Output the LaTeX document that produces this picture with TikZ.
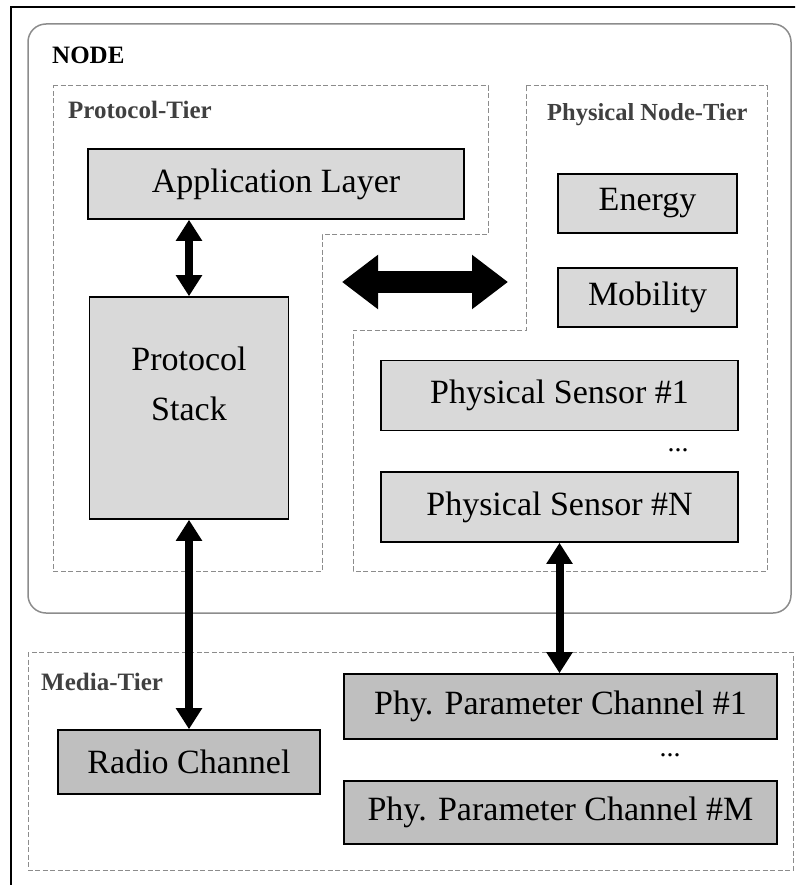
\documentclass[tikz,border=0pt]{standalone}
\usepackage{fontspec}
\setmainfont{Liberation Serif}
\usetikzlibrary{arrows.meta}
\definecolor{lgray}{HTML}{D9D9D9}
\definecolor{mgray}{HTML}{BFBFBF}
\definecolor{dgray}{HTML}{8C8C8C}
\begin{document}
\begin{tikzpicture}[x=1pt,y=-1pt,
 box/.style={draw=black,line width=1.6pt,fill=lgray,inner sep=0pt,font=\fontsize{34}{40}\selectfont},
 mbox/.style={box,fill=mgray},
 tier/.style={draw=dgray,line width=1pt,dash pattern=on 5pt off 2.5pt},
 tierlabel/.style={anchor=base west,inner sep=0pt,font=\bfseries\fontsize{25}{30}\selectfont,text=black!75},
 dots/.style={inner sep=0pt,font=\fontsize{28}{30}\selectfont},
 dbl/.style={line width=8pt,{Triangle[width=25pt,length=21pt]}-{Triangle[width=25pt,length=21pt]}},
 big/.style={line width=22pt,{Triangle[width=52pt,length=36pt]}-{Triangle[width=52pt,length=36pt]}}]
\useasboundingbox (0,0) rectangle (795,885);
\clip (0,0) rectangle (795,885);
% outer frame
\draw[line width=1.6pt] (11,7) rectangle (820,900);
% NODE rounded box
\draw[draw=dgray,line width=1.5pt,rounded corners=18pt] (28,24) rectangle (791,613);
\node[anchor=base west,inner sep=0pt,font=\bfseries\fontsize{25}{30}\selectfont] (nodelbl) at (52,64) {NODE};
% tiers
\draw[tier] (53,86) -- (488,86) -- (488,235) -- (322,235) -- (322,571) -- (53,571) -- cycle;
\draw[tier] (526,86) -- (767,86) -- (767,571) -- (353,571) -- (353,330) -- (526,330) -- cycle;
\draw[tier] (28,652) rectangle (793,870);
\node[tierlabel] (ptl) at (68,119) {Protocol-Tier};
\node[tierlabel,font=\bfseries\fontsize{24.5}{28}\selectfont] (pnl) at (547,121) {Physical Node-Tier};
\node[tierlabel] (mtl) at (41,690) {Media-Tier};
% boxes
\node[box,minimum width=376pt,minimum height=70pt] (app) at (276,184) {Application Layer};
\node[box,minimum width=199pt,minimum height=222pt] (ps) at (189,408) {};
\node[inner sep=0pt,align=center,font=\fontsize{34}{50}\selectfont] (pstxt) at (189,384) {Protocol\\Stack};
\node[box,minimum width=179pt,minimum height=59pt] (energy) at (647.5,203.5) {Energy};
\node[box,minimum width=179pt,minimum height=59pt] (mob) at (647.5,297.5) {Mobility};
\node[box,minimum width=357pt,minimum height=70pt] (s1) at (559.5,395.5) {Physical Sensor \#1};
\node[dots] (sdots) at (678,450) {...};
\node[box,minimum width=357pt,minimum height=70pt] (sN) at (559.5,507) {Physical Sensor \#N};
\node[mbox,minimum width=262pt,minimum height=64pt] (radio) at (189,762) {Radio Channel};
\node[mbox,minimum width=433pt,minimum height=65pt] (ch1) at (560.5,706.5) {Phy. Parameter Channel \#1};
\node[dots] (cdots) at (670,755) {...};
\node[mbox,minimum width=433pt,minimum height=63pt] (chM) at (560.5,812.5) {Phy. Parameter Channel \#M};
% connectors
\draw[dbl] (ps.north |- app.south) -- (ps.north);
\draw[dbl] (ps.south) -- (radio.north);
\draw[dbl] (sN.south) -- (sN.south |- ch1.north);
\coordinate (bl) at (342,282);
\coordinate (br) at (508,282);
\draw[big] (bl) -- (br);
\end{tikzpicture}
\end{document}
